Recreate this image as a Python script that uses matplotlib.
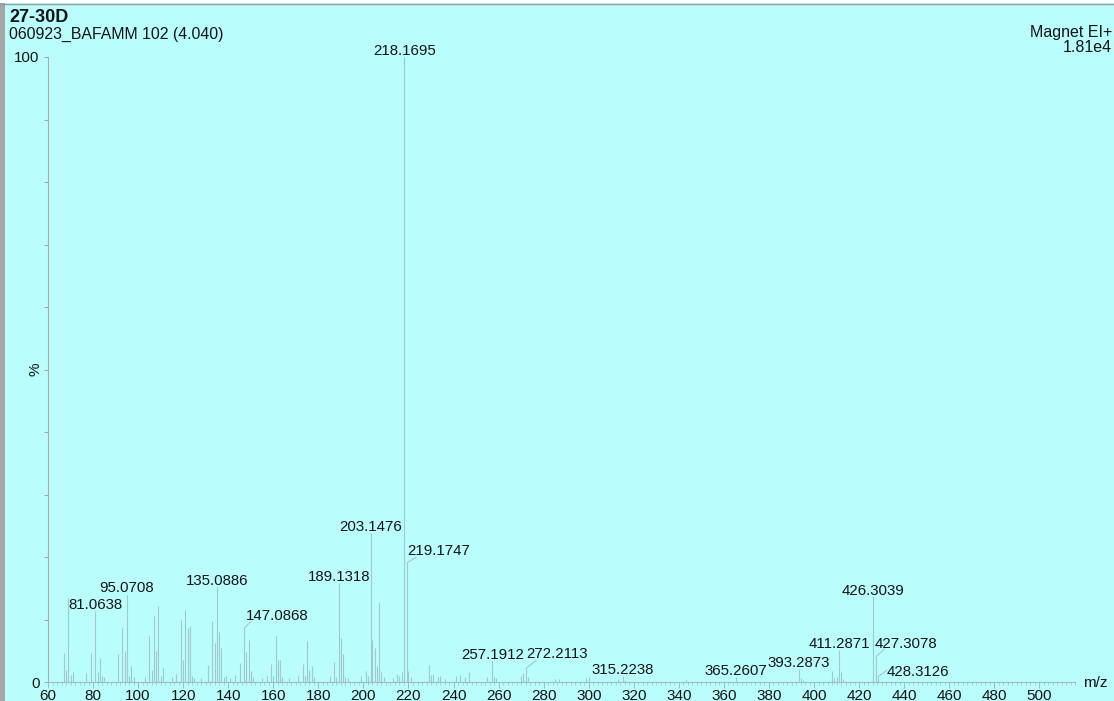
import matplotlib
matplotlib.use("Agg")
import matplotlib.pyplot as plt
from matplotlib.patches import Rectangle
from matplotlib.lines import Line2D
from matplotlib.ticker import MultipleLocator

plt.rcParams['font.family'] = ['Liberation Sans', 'DejaVu Sans']

# spectrum peaks (m/z, relative intensity %)
mz = [67, 68, 69, 70, 71, 77, 79, 81.0638, 82, 83, 84, 85,
      91, 93, 94, 95.0708, 96, 97, 98, 103, 105, 106, 107, 108, 109, 110, 111,
      115, 117, 119, 120, 121, 122, 123, 124, 125, 128, 131, 133, 134, 135.0886,
      136, 137, 138, 139, 141, 143, 145, 147.0868, 148, 149, 150, 151, 155, 157,
      159, 160, 161, 162, 163, 164, 167, 171, 173, 174, 175, 176, 177, 178,
      185, 187, 188, 189.1318, 190, 191, 192, 193, 199, 201, 202, 203.1476,
      204, 205, 206, 207, 208, 209, 213, 215, 216, 217, 218.1695, 219.1747,
      220, 221, 229, 230, 231, 233, 234, 236, 241, 243, 245, 247, 255,
      257.1912, 258, 259, 270, 271, 272.2113, 273, 285, 287, 299, 300, 313,
      315.2238, 316, 343, 365.2607, 393.2873, 394, 395, 408, 409, 410,
      411.2871, 412, 413, 426.3039, 427.3078, 428.3126]
intensity = [4.6, 1.9, 13.5, 1.2, 1.6, 1.5, 4.6, 11.3, 1.6, 3.8, 1.0, 0.8,
             4.5, 8.7, 5.0, 14.0, 1.0, 2.5, 0.8, 0.8, 7.3, 2.0, 10.6, 5.0, 12.2, 1.0, 2.3,
             0.8, 1.3, 10.0, 3.6, 11.6, 8.7, 9.0, 1.0, 0.6, 0.7, 2.8, 9.7, 6.2, 15.2,
             8.0, 5.5, 0.8, 1.0, 0.6, 1.2, 3.0, 8.6, 4.8, 6.8, 1.8, 0.8, 0.7, 1.0,
             2.9, 1.0, 7.3, 3.6, 3.6, 0.8, 0.6, 1.0, 2.9, 1.0, 6.5, 2.0, 2.6, 0.8,
             1.0, 3.2, 0.8, 15.8, 7.0, 4.5, 0.8, 0.6, 1.0, 1.7, 1.0, 23.8,
             6.7, 5.4, 2.5, 12.8, 1.6, 0.8, 0.6, 1.3, 1.0, 1.6, 100.0, 19.0,
             1.8, 0.8, 2.7, 1.2, 1.3, 0.8, 1.0, 0.5, 1.0, 1.2, 0.8, 1.6, 0.8,
             3.4, 0.8, 0.6, 1.0, 1.4, 2.2, 0.8, 0.5, 0.5, 0.6, 0.8, 0.5,
             0.9, 0.4, 0.4, 0.8, 2.1, 0.6, 0.4, 1.8, 0.6, 0.8,
             5.1, 1.6, 0.5, 13.6, 4.0, 0.8]

labelled = [81.0638, 95.0708, 135.0886, 147.0868, 189.1318, 203.1476, 218.1695,
            219.1747, 257.1912, 272.2113, 315.2238, 365.2607, 393.2873,
            411.2871, 426.3039, 427.3078, 428.3126]

x_ticks = list(range(60, 501, 20))

# labels pushed aside with a leader line: (leader dx, dy, text dx, dy) in pixels
leader = {147.0868: (7, 7, 2, 8), 219.1747: (9, 6, 1, 8), 272.2113: (10, 8, 0, 10),
          427.3078: (9, 8, -1, 9), 428.3126: (9, 7, 9, 1)}

bg = '#b9fdfd'
peak_col = '#a2c8cb'
txt = '#141414'

W, H = 1114, 701
fig = plt.figure(figsize=(W / 100, H / 100), dpi=100, facecolor=bg)
ax = fig.add_axes([48 / W, 19 / H, 1027.4 / W, 625 / H])
ax.set_facecolor('none')

ax.vlines(mz, 0, intensity, color=peak_col, lw=0.8)

for m in labelled:
    h = intensity[mz.index(m)]
    lab = f"{m:.4f}"
    if m in leader:
        ldx, ldy, tdx, tdy = leader[m]
        ax.annotate('', xy=(m, h), xytext=(ldx, ldy), textcoords='offset pixels',
                    arrowprops=dict(arrowstyle='-', color=peak_col, lw=0.8,
                                    shrinkA=0, shrinkB=0), annotation_clip=False)
        ax.annotate(lab, xy=(m, h), xytext=(tdx, tdy), textcoords='offset pixels',
                    ha='left', va='baseline', fontsize=10.8, color=txt,
                    annotation_clip=False)
    else:
        ax.annotate(lab, xy=(m, h), xytext=(0, 2), textcoords='offset pixels',
                    ha='center', va='baseline', fontsize=10.8, color=txt,
                    annotation_clip=False)

ax.set_xlim(60, 516)
ax.set_ylim(0, 100)
ax.set_xticks(x_ticks)
ax.set_xticklabels([str(t) for t in x_ticks], fontsize=11, color=txt)
ax.xaxis.set_minor_locator(MultipleLocator(2))
ax.set_yticks(range(0, 101, 10))
ax.set_yticklabels(['0'] + [''] * 9 + ['100'], fontsize=10.8, color=txt)
ax.tick_params(axis='x', which='major', length=4, width=0.7, color='#9dbdc0', pad=1)
ax.tick_params(axis='x', which='minor', length=2, width=0.6, color='#a8c8ca')
ax.tick_params(axis='y', length=3, width=0.7, color='#a5a5a5', pad=3)
for s in ['top', 'right']:
    ax.spines[s].set_visible(False)
ax.spines['left'].set_color('#acacac')
ax.spines['bottom'].set_color('#9dbdc0')
ax.spines['left'].set_linewidth(0.8)
ax.spines['bottom'].set_linewidth(0.8)
ax.spines['bottom'].set_bounds(60, 516)

# header text
fig.text(9 / W, 1 - 17 / H, '27-30D', fontsize=13, fontweight='bold', color=txt,
         ha='left', va='center')
fig.text(9 / W, 1 - 34 / H, '060923_BAFAMM 102 (4.040)', fontsize=11.4, color=txt,
         ha='left', va='center')
fig.text(1112 / W, 1 - 33 / H, 'Magnet EI+', fontsize=11.5, color=txt,
         ha='right', va='center')
fig.text(1112 / W, 1 - 48 / H, '1.81e4', fontsize=11.5, color=txt,
         ha='right', va='center')
fig.text(36 / W, 1 - 369 / H, '%', fontsize=11, color=txt, rotation=90,
         ha='center', va='center')
fig.text(1083 / W, 1 - 683 / H, 'm/z', fontsize=11, color=txt,
         ha='left', va='center')

# window frame edges
fig.patches.append(Rectangle((0, 1 - 3 / H), 1, 3 / H, transform=fig.transFigure,
                             facecolor='white', edgecolor='none'))
fig.lines.append(Line2D([0, 1], [1 - 3.5 / H, 1 - 3.5 / H], transform=fig.transFigure,
                        color='#9a9a9a', lw=1))
fig.patches.append(Rectangle((0, 0), 5 / W, 1 - 3 / H, transform=fig.transFigure,
                             facecolor='#a6a6a6', edgecolor='none'))

fig.savefig('out.png', dpi=100, facecolor=bg)
